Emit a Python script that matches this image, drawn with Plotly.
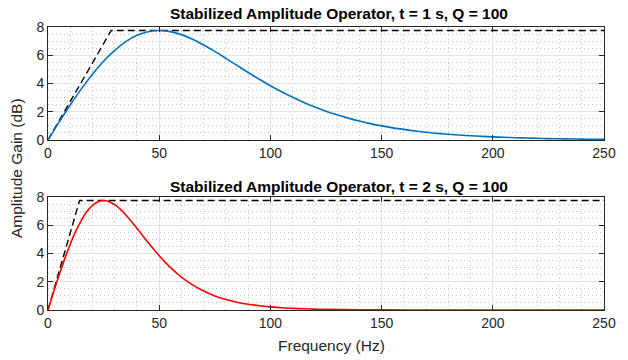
import plotly.graph_objects as go
from plotly.subplots import make_subplots

# ---- data ----
freq_top = [0, 5, 10, 15, 20, 25, 30, 35, 40, 45, 50, 55, 60, 65, 70, 75, 80, 85, 90, 95,
            100, 105, 110, 115, 120, 125, 130, 135, 140, 145, 150, 155, 160, 165, 170, 175,
            180, 185, 190, 195, 200, 205, 210, 215, 220, 225, 230, 235, 240, 245, 250]
gain_top = [0, 1.27, 2.48, 3.62, 4.66, 5.58, 6.35, 6.97, 7.41, 7.67, 7.75, 7.67, 7.46, 7.14,
            6.73, 6.27, 5.78, 5.28, 4.78, 4.30, 3.84, 3.41, 3.02, 2.66, 2.33, 2.04, 1.78, 1.55,
            1.34, 1.16, 1.00, 0.86, 0.75, 0.64, 0.55, 0.47, 0.41, 0.35, 0.30, 0.26, 0.22, 0.19,
            0.16, 0.14, 0.12, 0.10, 0.086, 0.074, 0.063, 0.054, 0.046]

freq_bot = [0, 2.5, 5, 7.5, 10, 12.5, 15, 17.5, 20, 22.5, 25, 27.5, 30, 32.5, 35, 37.5, 40,
            42.5, 45, 47.5, 50, 52.5, 55, 57.5, 60, 65, 70, 75, 80, 85, 90, 95, 100, 105, 110,
            115, 120, 125, 150, 175, 200, 250]
gain_bot = [0, 1.27, 2.48, 3.62, 4.66, 5.58, 6.35, 6.97, 7.41, 7.67, 7.75, 7.67, 7.46, 7.14,
            6.73, 6.27, 5.78, 5.28, 4.78, 4.30, 3.84, 3.41, 3.02, 2.66, 2.33, 1.78, 1.34, 1.00,
            0.75, 0.55, 0.41, 0.30, 0.22, 0.16, 0.12, 0.086, 0.063, 0.046, 0.01, 0.003, 0.001, 0]

ref_freq_top = [0, 28.4, 250]
ref_gain_top = [0, 7.75, 7.75]
ref_freq_bot = [0, 14.2, 250]
ref_gain_bot = [0, 7.75, 7.75]

titles = ["Stabilized Amplitude Operator, t = 1 s, Q = 100",
          "Stabilized Amplitude Operator, t = 2 s, Q = 100"]
x_ticks = [0, 50, 100, 150, 200, 250]
y_ticks = [0, 2, 4, 6, 8]

# ---- figure ----
W, H = 628, 360
L, R, T, B = 48, 24, 27, 50
ph = H - T - B  # plot height in px

fig = make_subplots(rows=2, cols=1, vertical_spacing=57 / ph)

font_fam = "Liberation Sans, Arial, Helvetica, sans-serif"
ink = "#262626"

fig.add_trace(go.Scatter(x=ref_freq_top, y=ref_gain_top, mode="lines",
                         line=dict(color="black", width=1.4, dash="7px,4px"),
                         showlegend=False, hoverinfo="skip"), row=1, col=1)
fig.add_trace(go.Scatter(x=freq_top, y=gain_top, mode="lines",
                         line=dict(color="#0072BD", width=1.6, shape="spline"),
                         showlegend=False), row=1, col=1)
fig.add_trace(go.Scatter(x=ref_freq_bot, y=ref_gain_bot, mode="lines",
                         line=dict(color="black", width=1.4, dash="7px,4px"),
                         showlegend=False, hoverinfo="skip"), row=2, col=1)
fig.add_trace(go.Scatter(x=freq_bot, y=gain_bot, mode="lines",
                         line=dict(color="#FF0000", width=1.6, shape="spline"),
                         showlegend=False), row=2, col=1)

axis_common = dict(
    showline=True, linecolor=ink, linewidth=1, mirror="ticks",
    ticks="inside", ticklen=5, tickcolor=ink, tickwidth=1,
    showgrid=True, gridcolor="#e2e2e2", gridwidth=1,
    zeroline=False,
    tickfont=dict(family=font_fam, size=14, color=ink),
)
minor_common = dict(showgrid=True, gridcolor="#c4c4c4", griddash="1px,3px",
                    gridwidth=1, ticks="")
for r in (1, 2):
    fig.update_xaxes(range=[0, 250], tickvals=x_ticks,
                     minor=dict(dtick=10, **minor_common),
                     **axis_common, row=r, col=1)
    fig.update_yaxes(range=[0, 8], tickvals=y_ticks,
                     minor=dict(dtick=0.5, **minor_common),
                     **axis_common, row=r, col=1)

def px_x(px):
    return (px - L) / (W - L - R)

def px_y(py):
    return (H - B - py) / ph

annos = [
    dict(text="<b>" + titles[0] + "</b>", x=px_x(339), y=px_y(14)),
    dict(text="<b>" + titles[1] + "</b>", x=px_x(339), y=px_y(186)),
    dict(text="Frequency (Hz)", x=px_x(331), y=px_y(345)),
    dict(text="Amplitude Gain (dB)", x=px_x(16), y=px_y(168), textangle=-90),
]
for a in annos:
    fig.add_annotation(xref="paper", yref="paper", xanchor="center", yanchor="middle",
                       showarrow=False,
                       font=dict(family=font_fam, size=15.5, color="black" if "<b>" in a["text"] else ink),
                       **a)

fig.update_layout(
    width=W, height=H,
    margin=dict(l=L, r=R, t=T, b=B),
    paper_bgcolor="white", plot_bgcolor="white",
    showlegend=False,
)

fig.write_html("out.html")
